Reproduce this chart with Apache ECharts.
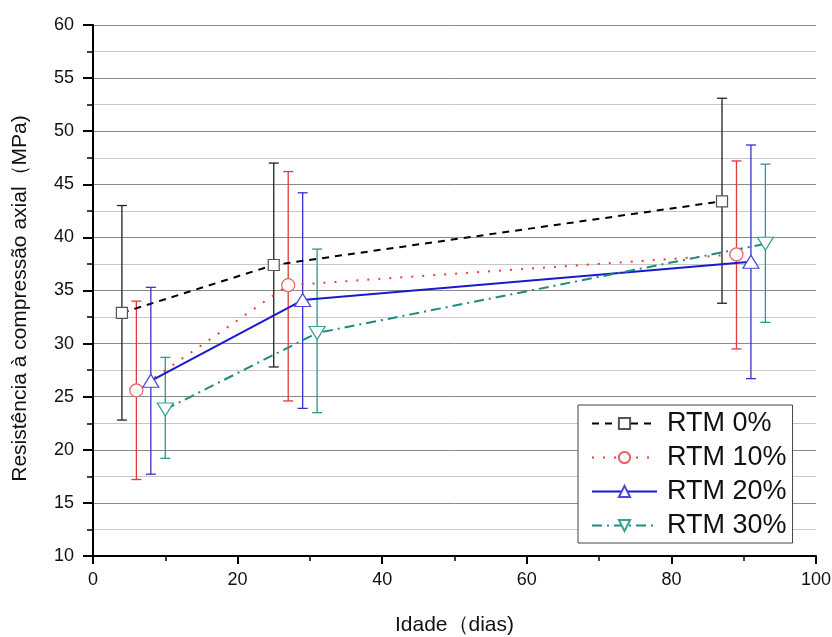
<!DOCTYPE html>
<html>
<head>
<meta charset="utf-8">
<script src="https://cdn.jsdelivr.net/npm/echarts@6/dist/echarts.min.js"></script>
<style>html,body{margin:0;padding:0;background:#fff;}#c{width:832px;height:637px;}</style>
</head>
<body>
<div id="c"></div>
<script>
var seriesNames = ['RTM 0%', 'RTM 10%', 'RTM 20%', 'RTM 30%'];
var ages0 = [4, 25, 87];
var ages10 = [6, 27, 89];
var ages20 = [8, 29, 91];
var ages30 = [10, 31, 93];
var mean0 = [32.9, 37.4, 43.4];
var mean10 = [25.6, 35.5, 38.4];
var mean20 = [26.5, 34.1, 37.7];
var mean30 = [23.8, 31.0, 39.4];
var low0 = [22.8, 27.8, 33.8];
var high0 = [43.0, 47.0, 53.1];
var low10 = [17.2, 24.6, 29.5];
var high10 = [34.0, 46.2, 47.2];
var low20 = [17.7, 23.9, 26.7];
var high20 = [35.3, 44.2, 48.7];
var low30 = [19.2, 23.5, 32.0];
var high30 = [28.7, 38.9, 46.9];

var ages = [ages0, ages10, ages20, ages30];
var means = [mean0, mean10, mean20, mean30];
var lows = [low0, low10, low20, low30];
var highs = [high0, high10, high20, high30];

var lineColors = ['#000000', '#e8403c', '#1a1acc', '#1d8c80'];
var markerColors = ['#555555', '#e86060', '#4848e0', '#3aa090'];
var barColors = ['#222222', '#e03a3a', '#3333cc', '#2a9a8a'];
var symbols = ['rect', 'circle', 'triangle', 'path://M0,0 L10,0 L5,10 Z'];
var symbolSizes = [11, 13, [16, 13], [16, 13]];
var lineTypes = [[7, 6], [2, 9], 'solid', [10, 5, 2, 5]];
var lineWidths = [2, 2, 2, 2];
var FONT = 'Liberation Sans, Arial, sans-serif';

var series = [];
for (var i = 0; i < 4; i++) {
  (function (i) {
    var errData = ages[i].map(function (x, k) { return [x, lows[i][k], highs[i][k]]; });
    series.push({
      name: seriesNames[i] + ' err',
      type: 'custom',
      z: 1,
      silent: true,
      data: errData,
      renderItem: function (params, api) {
        var x = api.value(0);
        var lo = api.coord([x, api.value(1)]);
        var hi = api.coord([x, api.value(2)]);
        var w = 5;
        var st = { stroke: barColors[i], lineWidth: 1.3 };
        return {
          type: 'group',
          children: [
            { type: 'line', shape: { x1: lo[0], y1: lo[1], x2: hi[0], y2: hi[1] }, style: st },
            { type: 'line', shape: { x1: lo[0] - w, y1: lo[1], x2: lo[0] + w, y2: lo[1] }, style: st },
            { type: 'line', shape: { x1: hi[0] - w, y1: hi[1], x2: hi[0] + w, y2: hi[1] }, style: st }
          ]
        };
      }
    });
    series.push({
      name: seriesNames[i],
      type: 'line',
      z: 5,
      data: ages[i].map(function (x, k) { return [x, means[i][k]]; }),
      symbol: symbols[i],
      symbolSize: symbolSizes[i],
      showAllSymbol: true,
      lineStyle: { color: lineColors[i], width: lineWidths[i], type: lineTypes[i] },
      itemStyle: { color: '#ffffff', borderColor: markerColors[i], borderWidth: 1.2 },
      emphasis: { disabled: true },
      animation: false
    });
  })(i);
}

var chart = echarts.init(document.getElementById('c'));
chart.setOption({
  animation: false,
  backgroundColor: '#ffffff',
  grid: { left: 93, right: 16, top: 25, bottom: 81, containLabel: false, outerBoundsMode: 'none' },
  legend: {
    data: seriesNames,
    orient: 'vertical',
    left: 578,
    top: 405,
    backgroundColor: '#ffffff',
    borderColor: '#444444',
    borderWidth: 1,
    borderRadius: 0,
    padding: [5, 6, 4, 13],
    itemGap: 7,
    itemWidth: 65,
    itemHeight: 14,
    textStyle: { fontFamily: FONT, fontSize: 27, lineHeight: 27, color: '#111111', padding: [0, 0, 0, 5] },
    selectedMode: false
  },
  xAxis: {
    type: 'value',
    min: 0, max: 100, interval: 20,
    name: 'Idade（dias)',
    nameLocation: 'middle',
    nameGap: 59,
    nameTextStyle: { fontFamily: FONT, fontSize: 21, color: '#111' },
    axisLine: { show: true, onZero: false, lineStyle: { color: '#000', width: 2 } },
    axisTick: { show: true, inside: false, length: 8, lineStyle: { color: '#000', width: 2 } },
    minorTick: { show: true, splitNumber: 2, length: 5, lineStyle: { color: '#000', width: 1.5 } },
    axisLabel: { fontFamily: FONT, fontSize: 18, color: '#111', margin: 15 },
    splitLine: { show: false }
  },
  yAxis: {
    type: 'value',
    min: 10, max: 60, interval: 5,
    name: 'Resistência à compressão axial（MPa)',
    nameLocation: 'middle',
    nameGap: 62,
    nameTextStyle: { fontFamily: FONT, fontSize: 21, color: '#111', padding: [0, 16, 0, 0] },
    axisLine: { show: true, onZero: false, lineStyle: { color: '#000', width: 2 } },
    axisTick: { show: true, inside: false, length: 10, lineStyle: { color: '#000', width: 2 } },
    minorTick: { show: true, splitNumber: 2, length: 6, lineStyle: { color: '#000', width: 1.5 } },
    axisLabel: { fontFamily: FONT, fontSize: 18, color: '#111', margin: 19 },
    splitLine: { show: true, lineStyle: { color: '#8a8a8a', width: 1 } },
    minorSplitLine: { show: true, lineStyle: { color: '#c8c8c8', width: 1 } }
  },
  series: series
});
</script>
</body>
</html>
